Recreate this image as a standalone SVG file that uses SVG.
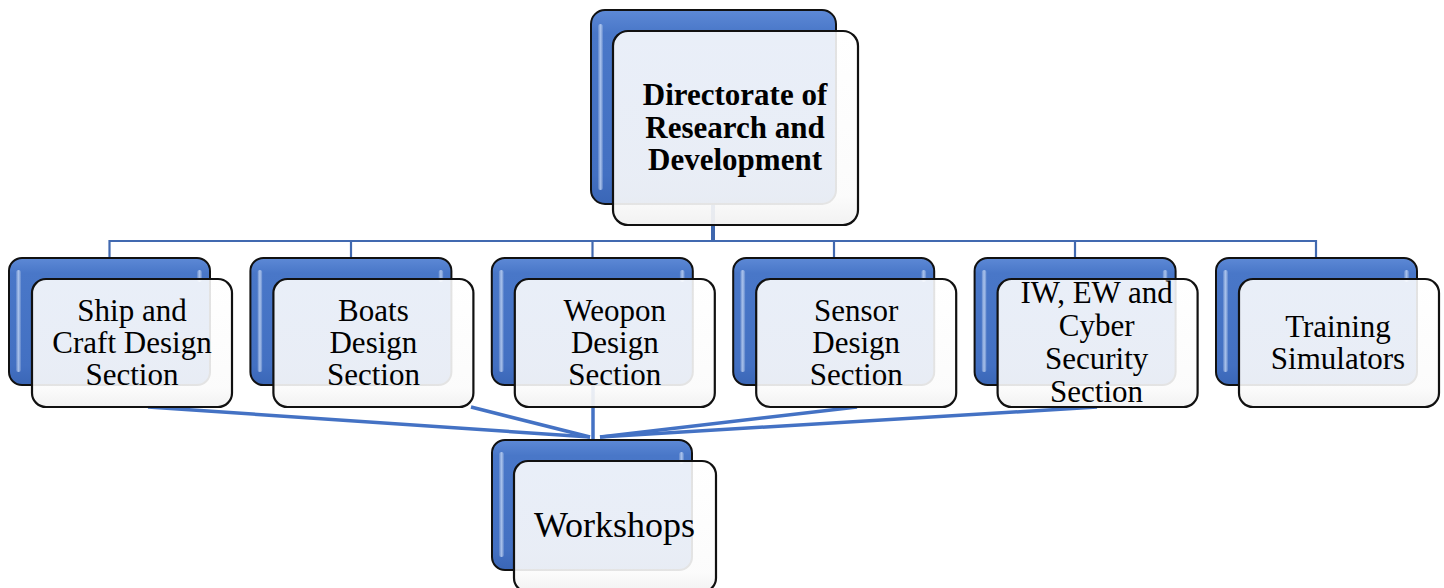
<svg xmlns="http://www.w3.org/2000/svg" width="1444" height="588" viewBox="0 0 1444 588">
  <defs>
    <linearGradient id="blueFill" x1="0" y1="0" x2="0" y2="1">
      <stop offset="0" stop-color="#5d89d6"/>
      <stop offset="0.12" stop-color="#4977c8"/>
      <stop offset="0.85" stop-color="#4370c2"/>
      <stop offset="1" stop-color="#3a66b6"/>
    </linearGradient>
    <linearGradient id="glassFill" x1="0" y1="0" x2="0" y2="1">
      <stop offset="0" stop-color="#ffffff" stop-opacity="0.88"/>
      <stop offset="0.85" stop-color="#fbfbfb" stop-opacity="0.9"/>
      <stop offset="1" stop-color="#f1f1f1" stop-opacity="0.95"/>
    </linearGradient>
    <linearGradient id="shine" x1="0" y1="0" x2="1" y2="0">
      <stop offset="0" stop-color="#ffffff" stop-opacity="0.1"/>
      <stop offset="0.5" stop-color="#cfe0fa" stop-opacity="0.7"/>
      <stop offset="1" stop-color="#ffffff" stop-opacity="0.1"/>
    </linearGradient>
  </defs>
  <style>
    .back { fill: url(#blueFill); stroke: #111; stroke-width: 2; }
    .front { fill: url(#glassFill); stroke: #111; stroke-width: 2.2; }
    .shine { fill: url(#shine); }
    .bus { stroke: #4169b0; stroke-width: 2.2; fill: none; }
    .trunk { stroke: #3e66ad; stroke-width: 4; fill: none; }
    .link { stroke: #4472c4; stroke-width: 3.5; fill: none; stroke-linecap: butt; }
    .lbl { font-family: "Liberation Serif", "Times New Roman", serif; font-size: 31px; fill: #000; text-anchor: middle; }
    .head { font-weight: bold; }
    .big { font-size: 36px; }
  </style>

  <rect width="1444" height="588" fill="#ffffff"/>

  <!-- connectors: tree bus from the directorate, then section links to workshops -->
  <g id="connectors">
    <line class="trunk" x1="713" y1="204" x2="713" y2="242"/>
    <polyline class="bus" points="109.5,259 109.5,241 1316,241 1316,259"/>
    <line class="bus" x1="351" y1="241" x2="351" y2="259"/>
    <line class="bus" x1="592.5" y1="241" x2="592.5" y2="259"/>
    <line class="bus" x1="834" y1="241" x2="834" y2="259"/>
    <line class="bus" x1="1075" y1="241" x2="1075" y2="259"/>
    <line class="link" x1="148" y1="407" x2="590" y2="437"/>
    <line class="link" x1="471" y1="407" x2="590" y2="437"/>
    <line class="link" x1="593" y1="385" x2="593" y2="440"/>
    <line class="link" x1="857" y1="407" x2="600" y2="437"/>
    <line class="link" x1="1097" y1="407" x2="600" y2="437"/>
  </g>

  <!-- top: directorate -->
  <g id="node-directorate">
    <rect class="back" x="591" y="10" width="245" height="194" rx="14"/>
    <rect class="shine" x="598" y="24" width="5" height="166" rx="2.5"/>
    <rect class="front" x="613" y="31" width="245" height="194" rx="15"/>
    <text class="lbl head" x="735" y="105">Directorate of</text>
    <text class="lbl head" x="735" y="138">Research and</text>
    <text class="lbl head" x="735" y="170">Development</text>
  </g>

  <!-- sections -->
  <g id="node-ship">
    <rect class="back" x="9" y="258" width="201" height="127" rx="13"/>
    <rect class="shine" x="16" y="270" width="5" height="102" rx="2.5"/>
    <rect class="shine" x="197" y="270" width="5" height="12" rx="2.5"/>
    <rect class="front" x="32" y="279" width="200" height="128" rx="14"/>
    <text class="lbl" x="132" y="321">Ship and</text>
    <text class="lbl" x="132" y="353">Craft Design</text>
    <text class="lbl" x="132" y="385">Section</text>
  </g>

  <g id="node-boats">
    <rect class="back" x="250.4" y="258" width="201" height="127" rx="13"/>
    <rect class="shine" x="257.4" y="270" width="5" height="102" rx="2.5"/>
    <rect class="shine" x="438.4" y="270" width="5" height="12" rx="2.5"/>
    <rect class="front" x="273.4" y="279" width="200" height="128" rx="14"/>
    <text class="lbl" x="373.4" y="321">Boats</text>
    <text class="lbl" x="373.4" y="353">Design</text>
    <text class="lbl" x="373.4" y="385">Section</text>
  </g>

  <g id="node-weapon">
    <rect class="back" x="491.8" y="258" width="201" height="127" rx="13"/>
    <rect class="shine" x="498.8" y="270" width="5" height="102" rx="2.5"/>
    <rect class="shine" x="679.8" y="270" width="5" height="12" rx="2.5"/>
    <rect class="front" x="514.8" y="279" width="200" height="128" rx="14"/>
    <text class="lbl" x="614.8" y="321">Weopon</text>
    <text class="lbl" x="614.8" y="353">Design</text>
    <text class="lbl" x="614.8" y="385">Section</text>
  </g>

  <g id="node-sensor">
    <rect class="back" x="733.2" y="258" width="201" height="127" rx="13"/>
    <rect class="shine" x="740.2" y="270" width="5" height="102" rx="2.5"/>
    <rect class="shine" x="921.2" y="270" width="5" height="12" rx="2.5"/>
    <rect class="front" x="756.2" y="279" width="200" height="128" rx="14"/>
    <text class="lbl" x="856.2" y="321">Sensor</text>
    <text class="lbl" x="856.2" y="353">Design</text>
    <text class="lbl" x="856.2" y="385">Section</text>
  </g>

  <g id="node-cyber">
    <rect class="back" x="974.6" y="258" width="201" height="127" rx="13"/>
    <rect class="shine" x="981.6" y="270" width="5" height="102" rx="2.5"/>
    <rect class="shine" x="1162.6" y="270" width="5" height="12" rx="2.5"/>
    <rect class="front" x="997.6" y="279" width="200" height="128" rx="14"/>
    <text class="lbl" x="1096.6" y="303">IW, EW and</text>
    <text class="lbl" x="1096.6" y="336">Cyber</text>
    <text class="lbl" x="1096.6" y="369">Security</text>
    <text class="lbl" x="1096.6" y="402">Section</text>
  </g>

  <g id="node-training">
    <rect class="back" x="1216" y="258" width="201" height="127" rx="13"/>
    <rect class="shine" x="1223" y="270" width="5" height="102" rx="2.5"/>
    <rect class="shine" x="1404" y="270" width="5" height="12" rx="2.5"/>
    <rect class="front" x="1239" y="279" width="200" height="128" rx="14"/>
    <text class="lbl" x="1338" y="337">Training</text>
    <text class="lbl" x="1338" y="369">Simulators</text>
  </g>

  <!-- bottom: workshops -->
  <g id="node-workshops">
    <rect class="back" x="492" y="440" width="200" height="130" rx="13"/>
    <rect class="shine" x="499" y="452" width="5" height="105" rx="2.5"/>
    <rect class="shine" x="679" y="452" width="5" height="12" rx="2.5"/>
    <rect class="front" x="514" y="461" width="202" height="131" rx="14"/>
    <text class="lbl big" x="614.5" y="537">Workshops</text>
  </g>
</svg>
